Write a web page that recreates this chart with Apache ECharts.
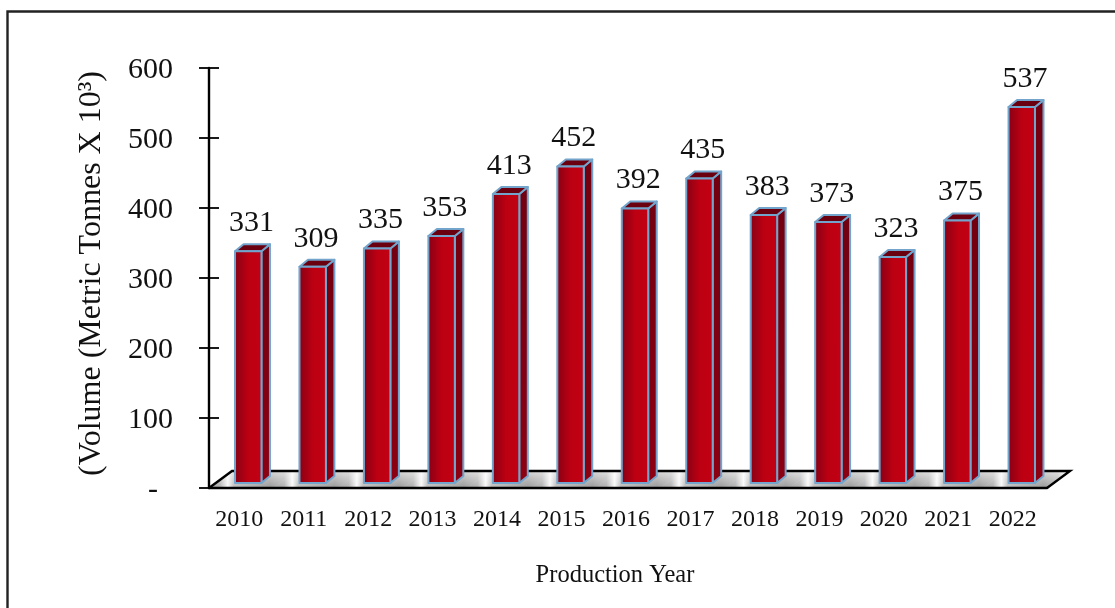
<!DOCTYPE html>
<html><head><meta charset="utf-8">
<style>html,body{margin:0;padding:0;background:#fff}#c{width:1115px;height:608px}</style>
<script src="https://cdn.jsdelivr.net/npm/echarts@6/dist/echarts.min.js"></script>
</head><body><div id="c"></div>
<script>
const years = ['2010','2011','2012','2013','2014','2015','2016','2017','2018','2019','2020','2021','2022'];
const volumes = [331,309,335,353,413,452,392,435,383,373,323,375,537];
const yTicks = {min:0,max:600,interval:100};
const yTitle = '(Volume (Metric Tonnes X 10\u00B3)';
const xTitle = 'Production Year';
const FONT = '"Liberation Serif","Times New Roman",serif';

const chart = echarts.init(document.getElementById('c'),null,{renderer:'canvas'});
const G = {left:209,right:1115-1047,top:68,bottom:608-488};
const depth = {x:23,y:-17};
const grad = (x,y,x2,y2,stops)=>new echarts.graphic.LinearGradient(x,y,x2,y2,stops);

function renderBar(params,api){
  const i = api.value(0), v = api.value(1);
  const p0 = api.coord([i,0]), p1 = api.coord([i,v]);
  const band = api.size([1,0])[0];
  const w = band*0.41, dx=8.5, dy=-7, cx=p0[0]+7, lift=5;
  const x0=cx-w/2, x1=cx+w/2, yb=p0[1]-lift, yt=p1[1]-lift;
  const edge={stroke:'#72a4cc',lineWidth:2,lineJoin:'round'};
  return {type:'group',children:[
    {type:'polygon',shape:{points:[[x1,yb],[x1+dx,yb+dy],[x1+dx,yt+dy],[x1,yt]]},
      style:Object.assign({fill:grad(0,0,0,1,[{offset:0,color:'#720010'},{offset:1,color:'#8c0012'}])},edge)},
    {type:'polygon',shape:{points:[[x0,yt],[x0+dx,yt+dy],[x1+dx,yt+dy],[x1,yt]]},
      style:Object.assign({fill:'#6a000f'},edge)},
    {type:'rect',shape:{x:x0,y:yt,width:w,height:yb-yt},
      style:Object.assign({fill:grad(0,0,1,0,[{offset:0,color:'#860014'},{offset:0.5,color:'#bc0012'},{offset:1,color:'#c20014'}])},edge)},
    {type:'text',style:{text:String(v),x:cx+dx/2-1,y:yt+dy-21,align:'center',verticalAlign:'middle',font:'30px '+FONT,fill:'#111'}}
  ]};
}
const floorStops = [[0,'#a0a0a0'],[11,'#b0b0b0'],[19,'#f8f8f8'],[25,'#bcbcbc'],[61,'#999999'],[64.46,'#a0a0a0'],[75,'#b0b0b0'],[83.5,'#f8f8f8'],[87.5,'#c8c8c8']];
function renderFloorBand(params,api){
  const i=api.value(0), c=api.coord([i,0]), band=api.size([1,0])[0];
  const x0=c[0]-band/2, x1=c[0]+band/2, y=c[1];
  const total=band+depth.x;
  return {type:'polygon',shape:{points:[[x0-0.3,y],[x0+depth.x-0.3,y+depth.y],[x1+depth.x+0.3,y+depth.y],[x1+0.3,y]]},
    style:{fill:grad(0,0,1,0,floorStops.map(s=>({offset:Math.min(1,s[0]/total),color:s[1]})))}};
}
function renderFloorEdge(params,api){
  const r=params.coordSys, y=r.y+r.height, xl=r.x, xr=r.x+r.width;
  const pts=[[xl,y],[xl+depth.x,y+depth.y],[xr+depth.x,y+depth.y],[xr,y]];
  return {type:'group',children:[
    {type:'polygon',shape:{points:pts},style:{fill:grad(0,0,0,1,[{offset:0,color:'rgba(255,255,255,0.6)'},{offset:1,color:'rgba(255,255,255,0)'}])}},
    {type:'polyline',shape:{points:pts},style:{fill:'none',stroke:'#000',lineWidth:2.4}}
  ]};
}
chart.setOption({
  animation:false,backgroundColor:'#fff',
  graphic:[
    {type:'polyline',shape:{points:[[7.5,608],[7.5,11.5],[1115,11.5]]},style:{fill:'none',stroke:'#222',lineWidth:2.4}},
    {type:'text',x:92,y:273.5,rotation:Math.PI/2,style:{text:yTitle,align:'center',verticalAlign:'middle',font:'32px '+FONT,fill:'#111'}},
    {type:'text',x:615,y:576,style:{text:xTitle,align:'center',verticalAlign:'middle',font:'24.5px '+FONT,fill:'#111'}}
  ],
  grid:G,
  xAxis:{type:'category',data:years,z:2,
    axisLine:{lineStyle:{color:'#000',width:2.4}},axisTick:{show:false},
    axisLabel:{interval:0,margin:20,fontFamily:FONT,fontSize:24,color:'#111',padding:[0,4,0,0]}},
  yAxis:[
   {type:'value',min:yTicks.min,max:yTicks.max,interval:yTicks.interval,z:2,
    axisLine:{show:true,lineStyle:{color:'#000',width:2.4}},
    axisTick:{show:true,length:10,lineStyle:{color:'#000',width:1.8}},splitLine:{show:false},
    axisLabel:{margin:36,fontFamily:FONT,fontSize:30,color:'#111',
      rich:{t:{fontFamily:FONT,fontSize:30,color:'#111',padding:[4,0,0,0]}},
      formatter:v=>'{t|'+(v===0?'-\u00A0\u00A0':String(v))+'}'}},
   {type:'value',position:'left',min:yTicks.min,max:yTicks.max,interval:yTicks.interval,z:2,
    axisLine:{show:false},axisLabel:{show:false},splitLine:{show:false},
    axisTick:{show:true,inside:true,length:10,lineStyle:{color:'#000',width:1.8}}}
  ],
  series:[
    {name:'floor',type:'custom',z:1,silent:true,renderItem:renderFloorBand,encode:{x:0,y:1},data:years.map((y,i)=>[i,0])},
    {name:'floorEdge',type:'custom',z:1.5,silent:true,renderItem:renderFloorEdge,data:[[0,0]],encode:{x:0,y:1}},
    {name:'Volume',type:'custom',z:3,renderItem:renderBar,encode:{x:0,y:1},data:volumes.map((v,i)=>[i,v])}
  ]
});
</script></body></html>
